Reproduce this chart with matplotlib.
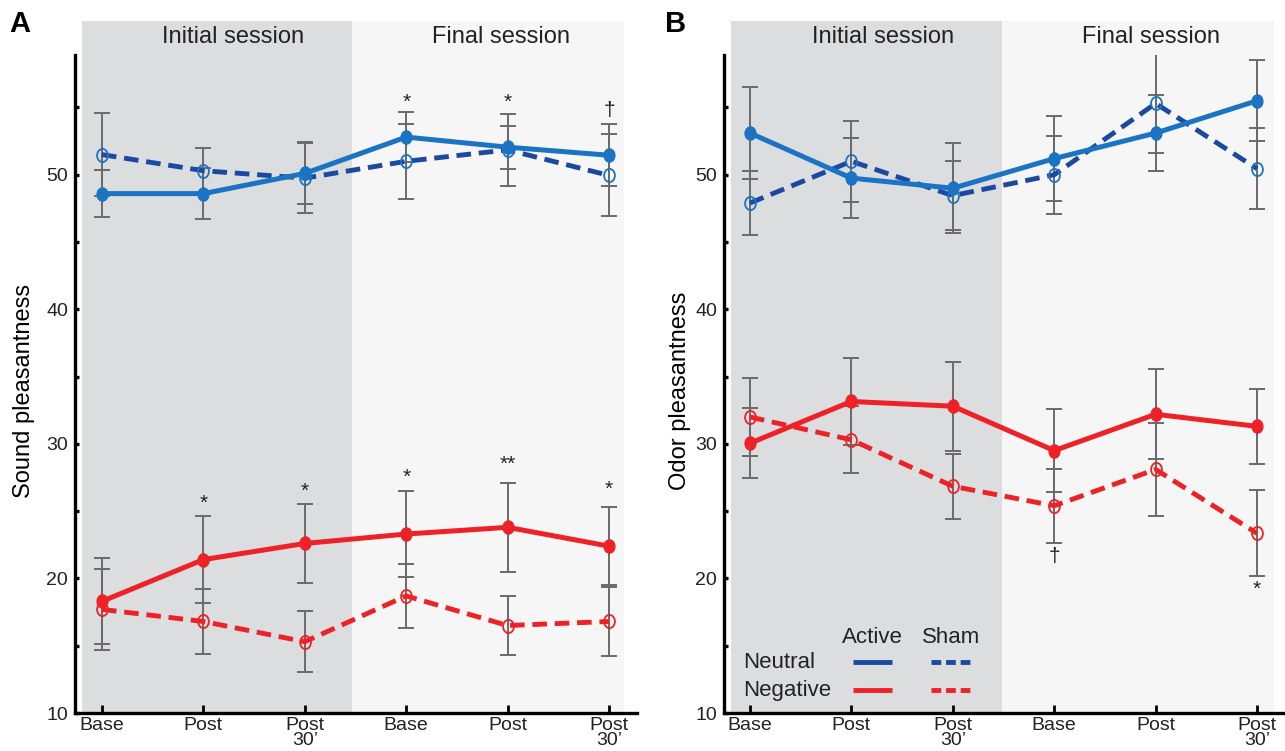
import matplotlib
matplotlib.use("Agg")
import matplotlib.pyplot as plt
from matplotlib.patches import Rectangle
from matplotlib.path import Path
from matplotlib.transforms import Affine2D

plt.rcParams['font.family'] = ['Liberation Sans', 'DejaVu Sans']

# ---------------- data ----------------
tick_labels = ["Base", "Post", "Post\n30\u2019", "Base", "Post", "Post\n30\u2019"]
sessions = ["Initial session", "Final session"]

# Panel A: Sound pleasantness
a_neu_act = [48.6, 48.6, 50.1, 52.8, 52.05, 51.45]
a_neu_act_err = [1.75, 1.9, 2.3, 1.85, 1.6, 2.3]
a_neu_sham = [51.5, 50.3, 49.75, 51.0, 51.85, 49.95]
a_neu_sham_err = [3.1, 1.7, 2.6, 2.8, 2.7, 3.05]
a_neg_act = [18.3, 21.4, 22.6, 23.3, 23.8, 22.4]
a_neg_act_err = [3.2, 3.25, 2.95, 3.2, 3.3, 2.9]
a_neg_sham = [17.7, 16.8, 15.3, 18.7, 16.5, 16.8]
a_neg_sham_err = [3.0, 2.4, 2.25, 2.4, 2.2, 2.6]

# Panel B: Odor pleasantness
b_neu_act = [53.1, 49.75, 49.0, 51.2, 53.1, 55.5]
b_neu_act_err = [3.4, 3.0, 3.35, 3.15, 2.8, 3.0]
b_neu_sham = [47.9, 51.0, 48.45, 50.0, 55.3, 50.45]
b_neu_sham_err = [2.4, 3.0, 2.55, 2.9, 3.65, 3.0]
b_neg_act = [30.05, 33.15, 32.8, 29.5, 32.2, 31.3]
b_neg_act_err = [2.6, 3.2, 3.3, 3.1, 3.35, 2.8]
b_neg_sham = [32.0, 30.3, 26.85, 25.4, 28.1, 23.35]
b_neg_sham_err = [2.9, 2.5, 2.4, 2.75, 3.45, 3.2]

# significance marks: (x index, y value, text)
a_marks = [(3, 55.4, "*"), (4, 55.4, "*"), (5, 54.8, "\u2020"),
           (1, 25.6, "*"), (2, 26.45, "*"), (3, 27.5, "*"), (4, 28.5, "**"), (5, 26.6, "*")]
b_marks = [(3, 21.6, "\u2020"), (5, 19.2, "*")]

# ---------------- style ----------------
C_ACT_BLUE = "#1a74c3"
C_SHAM_BLUE = "#1b49a2"
C_RED = "#ee2226"
C_ERR = "#6a6a6a"
C_DARK = "#dcdddf"
C_LIGHT = "#f6f6f6"
C_TEXT = "#222222"

ell = Path.unit_circle().transformed(Affine2D().scale(0.82, 1.0))

fig = plt.figure(figsize=(12.85, 7.51), dpi=100)
W, H = 1285.0, 751.0

def make_axes(left_px, right_px, xlim, shade):
    ax = fig.add_axes([left_px / W, (H - 713) / H, (right_px - left_px) / W, (713 - 55) / H])
    ax.set_xlim(*xlim)
    ax.set_ylim(10, 58.9)
    ax.patch.set_alpha(0)
    x0, xm, x1 = shade
    ax.add_patch(Rectangle((x0, 10), xm - x0, 51.4, facecolor=C_DARK, edgecolor="none",
                           zorder=0, clip_on=False))
    ax.add_patch(Rectangle((xm, 10), x1 - xm, 51.4, facecolor=C_LIGHT, edgecolor="none",
                           zorder=0, clip_on=False))
    for s in ["top", "right"]:
        ax.spines[s].set_visible(False)
    for s in ["left", "bottom"]:
        ax.spines[s].set_linewidth(2.4)
        ax.spines[s].set_zorder(5)
    ax.set_yticks([10, 20, 30, 40, 50])
    ax.set_yticks([15, 25, 35, 45, 55], minor=True)
    ax.set_xticks(range(6))
    ax.set_xticklabels(tick_labels)
    for lab in ax.get_xticklabels():
        lab.set_linespacing(0.8)
    ax.tick_params(axis="y", which="both", direction="in", length=3, width=2.4,
                   labelsize=14, pad=5, labelcolor=C_TEXT)
    ax.tick_params(axis="x", direction="in", length=6, width=2, labelsize=14, pad=3,
                   labelcolor=C_TEXT)
    return ax

def series(ax, y, err, color, dashed, mec=None):
    x = list(range(len(y)))
    ax.errorbar(x, y, yerr=err, fmt="none", ecolor=C_ERR, elinewidth=1.4,
                capsize=6, capthick=1.4, zorder=2)
    if dashed:
        ax.plot(x, y, color=color, lw=3.5, dashes=(3.0, 1.6), dash_capstyle="butt",
                marker=ell, markersize=9.5, fillstyle="none", markeredgewidth=1.3,
                markeredgecolor=mec or color, zorder=3)
    else:
        ax.plot(x, y, color=color, lw=3.6, marker=ell, markersize=9.5,
                markerfacecolor=color, markeredgecolor=color, zorder=4)

def session_titles(ax, xs):
    for xt, t in zip(xs, sessions):
        ax.text(xt, 60.25, t, ha="center", va="center", fontsize=17, color=C_TEXT,
                clip_on=False)

def marks(ax, mk):
    for xi, yv, t in mk:
        ax.text(xi, yv, t, ha="center", va="center", fontsize=15, color=C_TEXT)

# ---------------- Panel A ----------------
axA = make_axes(75, 637, (-0.266, 5.276), (-0.2, 2.47, 5.15))
series(axA, a_neu_sham, a_neu_sham_err, C_SHAM_BLUE, True, mec=C_ACT_BLUE)
series(axA, a_neu_act, a_neu_act_err, C_ACT_BLUE, False)
series(axA, a_neg_sham, a_neg_sham_err, C_RED, True)
series(axA, a_neg_act, a_neg_act_err, C_RED, False)
session_titles(axA, [1.29, 3.93])
marks(axA, a_marks)
axA.set_ylabel("Sound pleasantness", fontsize=17, color="black", va="center")
axA.yaxis.set_label_coords(-0.091, 0.49)
fig.text(20 / W, 1 - 24 / H, "A", fontsize=21, fontweight="bold", ha="center", va="center")

# ---------------- Panel B ----------------
axB = make_axes(724, 1283, (-0.256, 5.256), (-0.19, 2.485, 5.17))
series(axB, b_neu_sham, b_neu_sham_err, C_SHAM_BLUE, True, mec=C_ACT_BLUE)
series(axB, b_neu_act, b_neu_act_err, C_ACT_BLUE, False)
series(axB, b_neg_sham, b_neg_sham_err, C_RED, True)
series(axB, b_neg_act, b_neg_act_err, C_RED, False)
session_titles(axB, [1.31, 3.95])
marks(axB, b_marks)
axB.set_ylabel("Odor pleasantness", fontsize=17, color="black", va="center")
axB.yaxis.set_label_coords(-0.078, 0.49)
fig.text(676 / W, 1 - 24 / H, "B", fontsize=21, fontweight="bold", ha="center", va="center")

# legend (drawn manually inside panel B)
axB.text(1.203, 15.63, "Active", ha="center", va="center", fontsize=16, color=C_TEXT)
axB.text(1.98, 15.63, "Sham", ha="center", va="center", fontsize=16, color=C_TEXT)
axB.text(-0.069, 13.78, "Neutral", ha="left", va="center", fontsize=16, color=C_TEXT)
axB.text(-0.069, 11.70, "Negative", ha="left", va="center", fontsize=16, color=C_TEXT)
for yv, col in [(13.78, C_SHAM_BLUE), (11.70, C_RED)]:
    axB.plot([1.016, 1.40], [yv, yv], color=col, lw=3.5, solid_capstyle="butt", zorder=4)
    axB.plot([1.785, 2.19], [yv, yv], color=col, lw=3.5, dashes=(2.0, 1.0),
             dash_capstyle="butt", zorder=4)

fig.savefig("out.png", dpi=100)
